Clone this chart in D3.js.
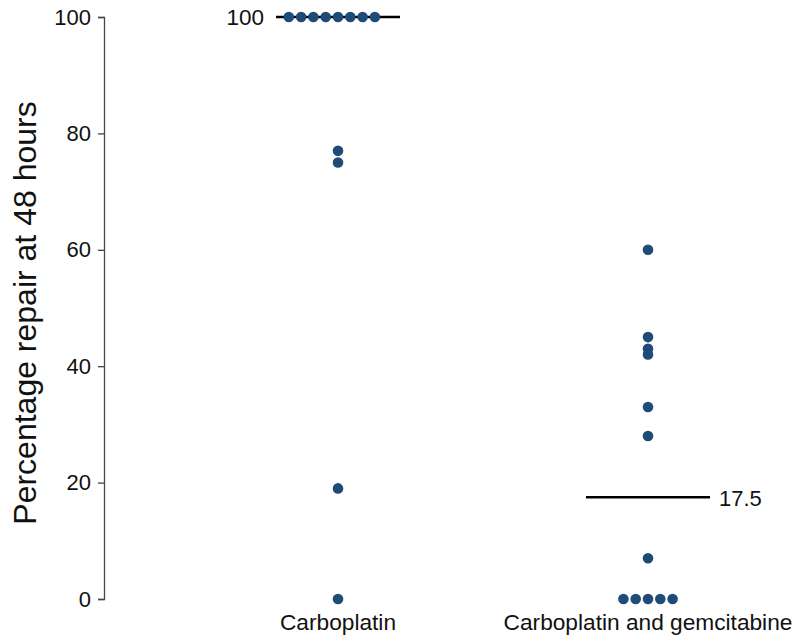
<!DOCTYPE html>
<html>
<head>
<meta charset="utf-8">
<script src="https://cdn.jsdelivr.net/npm/d3@7"></script>
<style>
html,body{margin:0;padding:0;background:#fff;}
text{font-family:"Liberation Sans",Arial,sans-serif;}
</style>
</head>
<body>
<svg id="chart" width="800" height="643"></svg>
<script>
const categories = ["Carboplatin", "Carboplatin and gemcitabine"];
const carboplatinValues = [100,100,100,100,100,100,100,100,77,75,19,0];
const gemcitabineValues = [60,45,43,42,33,28,7,0,0,0,0,0];
const medianLabels = ["100", "17.5"];
const yTicks = [0,20,40,60,80,100];
const yTitle = "Percentage repair at 48 hours";

const series = [carboplatinValues, gemcitabineValues];
const svg = d3.select("#chart");
const y = d3.scaleLinear().domain([0,100]).range([599,17]);
const x = d3.scalePoint().domain(categories).range([338,648]);
const dotColor = "#1f4b78";
const spacing = 12.3;

// y axis
const yAxis = d3.axisLeft(y).tickValues(yTicks).tickSize(6).tickPadding(7);
const gy = svg.append("g").attr("transform","translate(104,0)").call(yAxis);
gy.select(".domain").attr("stroke","#444").attr("stroke-width",1.3);
gy.selectAll(".tick line").attr("stroke","#444").attr("stroke-width",1.3);
gy.selectAll(".tick text").attr("font-size",22).attr("fill","#111")
  .attr("font-family","'Liberation Sans',Arial,sans-serif");

svg.append("text")
  .attr("transform","translate(36,313) rotate(-90)")
  .attr("text-anchor","middle")
  .attr("font-size",32)
  .attr("fill","#111")
  .text(yTitle);

// category labels
categories.forEach(c=>{
  svg.append("text").attr("x",x(c)).attr("y",630)
    .attr("text-anchor","middle").attr("font-size",22.7).attr("fill","#111").text(c);
});

// medians
series.forEach((vals,k)=>{
  const c = categories[k];
  const m = d3.median(vals);
  svg.append("line")
    .attr("x1",x(c)-62).attr("x2",x(c)+62)
    .attr("y1",y(m)).attr("y2",y(m))
    .attr("stroke","#000").attr("stroke-width",2.5);
  if(k===0){
    svg.append("text").attr("x",x(c)-74).attr("y",y(m)+8)
      .attr("text-anchor","end").attr("font-size",22.5).attr("fill","#111").text(medianLabels[k]);
  } else {
    svg.append("text").attr("x",x(c)+71).attr("y",y(m)+9)
      .attr("text-anchor","start").attr("font-size",22).attr("fill","#111").text(medianLabels[k]);
  }
});

// dots (beeswarm for ties)
series.forEach((vals,k)=>{
  const c = categories[k];
  const groups = d3.group(vals, v=>v);
  const pts = [];
  groups.forEach((arr,v)=>{
    const n = arr.length;
    arr.forEach((_,i)=>pts.push({v, off:(i-Math.floor(n/2))*spacing}));
  });
  svg.append("g").selectAll("circle").data(pts).join("circle")
    .attr("cx",d=>x(c)+d.off)
    .attr("cy",d=>y(d.v))
    .attr("r",5.3)
    .attr("fill",dotColor);
});
</script>
</body>
</html>
